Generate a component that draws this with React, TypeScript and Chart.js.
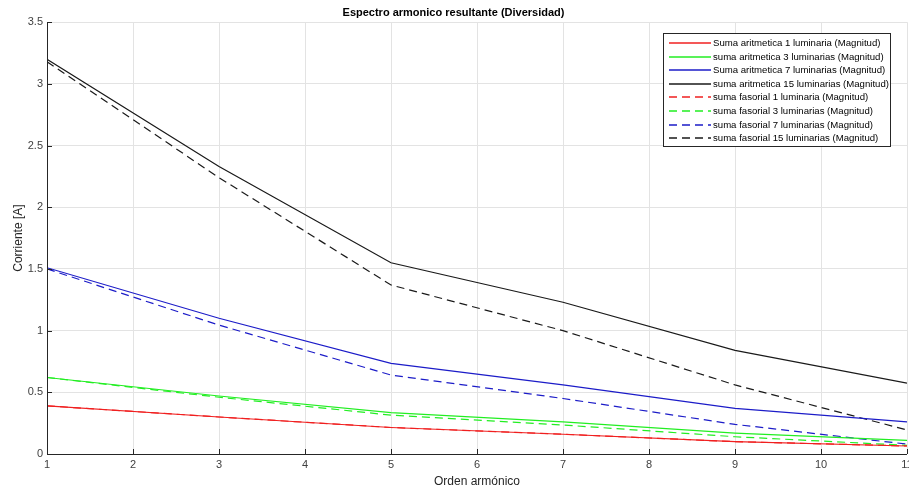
import React, { useEffect, useRef } from 'react';
import { Chart, registerables } from 'chart.js';

Chart.register(...registerables);

const harmonics = [1, 3, 5, 7, 9, 11];
const aritm1 = [0.39, 0.30, 0.215, 0.16, 0.10, 0.065];
const aritm3 = [0.62, 0.47, 0.335, 0.26, 0.17, 0.11];
const aritm7 = [1.51, 1.10, 0.735, 0.56, 0.37, 0.26];
const aritm15 = [3.20, 2.33, 1.55, 1.23, 0.84, 0.575];
const fas1 = [0.39, 0.30, 0.215, 0.16, 0.10, 0.065];
const fas3 = [0.62, 0.46, 0.315, 0.235, 0.14, 0.07];
const fas7 = [1.50, 1.045, 0.64, 0.45, 0.24, 0.08];
const fas15 = [3.18, 2.24, 1.37, 1.0, 0.56, 0.195];

const seriesLabels = [
  'Suma aritmetica 1 luminaria (Magnitud)',
  'suma aritmetica 3 luminarias (Magnitud)',
  'Suma aritmetica 7 luminarias (Magnitud)',
  'suma aritmetica 15 luminarias (Magnitud)',
  'suma fasorial 1 luminaria (Magnitud)',
  'suma fasorial 3 luminarias (Magnitud)',
  'suma fasorial 7 luminarias (Magnitud)',
  'suma fasorial 15 luminarias (Magnitud)',
];
const seriesValues = [aritm1, aritm3, aritm7, aritm15, fas1, fas3, fas7, fas15];
const seriesColors = ['#f02020', '#22ee22', '#1c1cc8', '#1a1a1a', '#f02020', '#22ee22', '#1c1cc8', '#1a1a1a'];
const seriesDashed = [false, false, false, false, true, true, true, true];

const xTickValues = [1, 2, 3, 4, 5, 6, 7, 8, 9, 10, 11];
const titleText = 'Espectro armonico resultante (Diversidad)';
const xTitle = 'Orden armónico';
const yTitle = 'Corriente [A]';
const xMin = 1;
const xMax = 11;
const yMin = 0;
const yMax = 3.5;

const FONT = '"Liberation Sans", Arial, sans-serif';
const DASH = [8, 5];

const innerTicks = {
  id: 'innerTicks',
  afterDraw(chart: any) {
    const ctx = chart.ctx;
    const { left, right, top, bottom } = chart.chartArea;
    const xs = chart.scales.x;
    const ys = chart.scales.y;
    ctx.save();
    ctx.strokeStyle = '#262626';
    ctx.lineWidth = 1;
    ctx.beginPath();
    xs.ticks.forEach((t: any) => {
      const px = Math.round(xs.getPixelForValue(t.value)) + 0.5;
      ctx.moveTo(px, bottom);
      ctx.lineTo(px, bottom - 5);
    });
    ys.ticks.forEach((t: any) => {
      const py = Math.round(ys.getPixelForValue(t.value)) + 0.5;
      ctx.moveTo(left, py);
      ctx.lineTo(left + 5, py);
    });
    ctx.stroke();
    ctx.beginPath();
    ctx.moveTo(Math.round(left) + 0.5, top);
    ctx.lineTo(Math.round(left) + 0.5, bottom);
    ctx.moveTo(left, Math.round(bottom) + 0.5);
    ctx.lineTo(right, Math.round(bottom) + 0.5);
    ctx.stroke();
    ctx.restore();
  },
};

const boxLegend = {
  id: 'boxLegend',
  afterDraw(chart: any) {
    const ctx = chart.ctx;
    const ds = chart.data.datasets;
    const bx = 663;
    const by = 33;
    const bw = 227;
    const bh = 113;
    const rowH = 13.6;
    ctx.save();
    ctx.fillStyle = '#ffffff';
    ctx.fillRect(bx, by, bw, bh);
    ctx.strokeStyle = '#262626';
    ctx.lineWidth = 1;
    ctx.setLineDash([]);
    ctx.strokeRect(bx + 0.5, by + 0.5, bw, bh);
    ctx.font = '9.6px ' + FONT;
    ctx.textBaseline = 'middle';
    ds.forEach((d: any, i: number) => {
      const y = Math.round(by + 10 + i * rowH);
      ctx.save();
      ctx.strokeStyle = seriesColors[i];
      ctx.lineWidth = 1.6;
      ctx.setLineDash(seriesDashed[i] ? DASH : []);
      ctx.beginPath();
      ctx.moveTo(669, y);
      ctx.lineTo(711, y);
      ctx.stroke();
      ctx.restore();
      ctx.fillStyle = '#000000';
      ctx.fillText(d.label, 713, y);
    });
    ctx.restore();
  },
};

export default function App() {
  const ref = useRef<HTMLCanvasElement | null>(null);
  useEffect(() => {
    document.body.style.margin = '0';
    const canvas = ref.current;
    if (!canvas) return;
    const chart = new Chart(canvas, {
      type: 'line',
      data: {
        datasets: seriesValues.map((vals, i) => ({
          label: seriesLabels[i],
          data: harmonics.map((h, j) => ({ x: h, y: vals[j] })),
          borderColor: seriesColors[i],
          backgroundColor: seriesColors[i],
          borderWidth: 1.2,
          borderDash: seriesDashed[i] ? DASH : [],
          pointRadius: 0,
          tension: 0,
          fill: false,
        })),
      },
      options: {
        animation: false,
        responsive: false,
        maintainAspectRatio: false,
        layout: { padding: { top: 0, right: 2, left: 0, bottom: 0 } },
        plugins: {
          legend: { display: false },
          tooltip: { enabled: false },
          title: {
            display: true,
            text: titleText,
            color: '#000000',
            font: { family: FONT, size: 11, weight: 'bold' },
            padding: { top: 6, bottom: 3 },
          },
        },
        scales: {
          x: {
            type: 'linear',
            min: xMin,
            max: xMax,
            afterFit(scale: any) {
              scale.height = 35;
              scale.paddingLeft = 0;
              scale.paddingRight = 0;
            },
            afterBuildTicks(scale: any) {
              scale.ticks = xTickValues.map((v) => ({ value: v }));
            },
            ticks: {
              color: '#404040',
              font: { family: FONT, size: 11 },
              padding: 4,
              maxRotation: 0,
              autoSkip: false,
              callback: (v: any) => String(v),
            },
            grid: { color: '#e3e3e3', drawTicks: false, tickLength: 0 },
            border: { display: false },
            title: {
              display: true,
              text: xTitle,
              color: '#262626',
              font: { family: FONT, size: 12 },
              padding: { top: 0, bottom: 0 },
            },
          },
          y: {
            type: 'linear',
            min: yMin,
            max: yMax,
            afterFit(scale: any) {
              scale.width = 47;
              scale.paddingTop = 0;
              scale.paddingBottom = 0;
            },
            ticks: {
              stepSize: 0.5,
              color: '#404040',
              font: { family: FONT, size: 11 },
              padding: 4,
              callback: (v: any) => String(Math.round(Number(v) * 10) / 10),
            },
            grid: { color: '#e3e3e3', drawTicks: false, tickLength: 0 },
            border: { display: false },
            title: {
              display: true,
              text: yTitle,
              color: '#262626',
              font: { family: FONT, size: 12 },
              padding: { top: 11, bottom: 0 },
            },
          },
        },
      },
      plugins: [innerTicks, boxLegend],
    });
    return () => chart.destroy();
  }, []);
  return (
    <div style={{ position: 'absolute', left: 0, top: 0, width: 909, height: 489, background: '#fff' }}>
      <canvas ref={ref} width={909} height={489} style={{ width: 909, height: 489 }} />
    </div>
  );
}
